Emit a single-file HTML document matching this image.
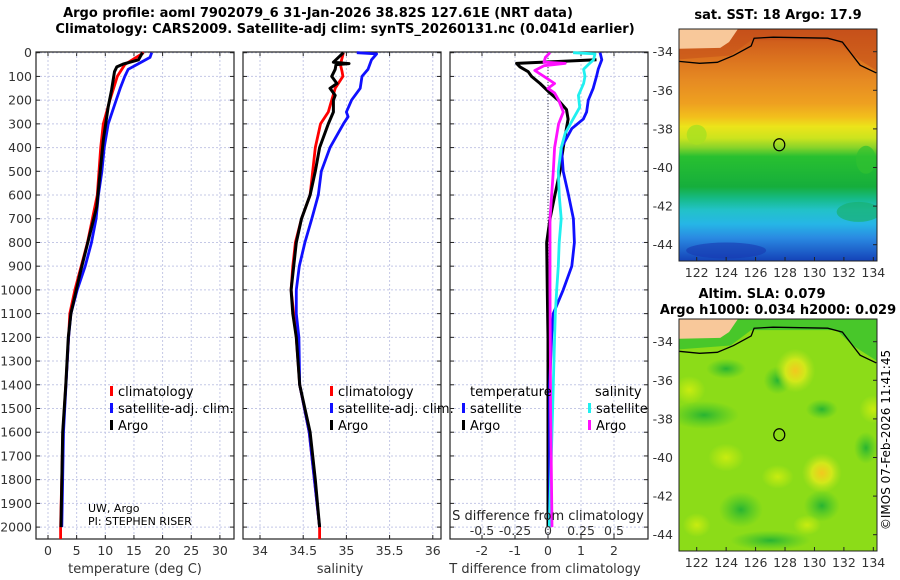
<!DOCTYPE html>
<html><head><meta charset="utf-8"><style>
body{margin:0;background:#fff;}
svg{display:block;font-family:"DejaVu Sans","Liberation Sans",sans-serif;}
</style></head><body>
<svg id="fig" width="900" height="580" viewBox="0 0 900 580">
<defs>
<linearGradient id="sstg" x1="0" y1="0" x2="0" y2="1">
<stop offset="0" stop-color="#c8501a"/><stop offset="0.12" stop-color="#da701e"/>
<stop offset="0.22" stop-color="#e68a22"/><stop offset="0.32" stop-color="#eea020"/>
<stop offset="0.38" stop-color="#f2c01c"/><stop offset="0.42" stop-color="#ece41a"/>
<stop offset="0.47" stop-color="#cce41e"/><stop offset="0.51" stop-color="#8ad42a"/>
<stop offset="0.55" stop-color="#28c030"/><stop offset="0.68" stop-color="#16ae3c"/>
<stop offset="0.73" stop-color="#16ba86"/><stop offset="0.78" stop-color="#22c2c8"/>
<stop offset="0.84" stop-color="#26b6e6"/><stop offset="0.9" stop-color="#2a8ae2"/>
<stop offset="1" stop-color="#1442b8"/></linearGradient>
<radialGradient id="yb"><stop offset="0" stop-color="#f2c81e"/><stop offset="0.5" stop-color="#d2e81a"/><stop offset="1" stop-color="#b4e41c" stop-opacity="0"/></radialGradient>
<radialGradient id="gb"><stop offset="0" stop-color="#28b432"/><stop offset="1" stop-color="#3cc42c" stop-opacity="0"/></radialGradient>
<radialGradient id="lb"><stop offset="0" stop-color="#c8ec10"/><stop offset="1" stop-color="#c8ec10" stop-opacity="0"/></radialGradient>
</defs>
<text x="318" y="17" text-anchor="middle" font-weight="bold" font-size="13">Argo profile: aoml 7902079_6 31-Jan-2026 38.82S 127.61E (NRT data)</text>
<text x="345" y="33" text-anchor="middle" font-weight="bold" font-size="13">Climatology: CARS2009. Satellite-adj clim: synTS_20260131.nc (0.041d earlier)</text>
<g id="g1"></g>
<g id="g2"></g>
<g id="g3"></g>
<g id="m1"></g>
<g id="m2"></g>
<text x="890" y="440" text-anchor="middle" font-size="12" transform="rotate(-90 890 440)">©IMOS 07-Feb-2026 11:41:45</text>
</svg>
<script>
// ---- data ----
const depthTicks=[0,100,200,300,400,500,600,700,800,900,1000,1100,1200,1300,1400,1500,1600,1700,1800,1900,2000];
const tempTicks=[0,5,10,15,20,25,30];
const salTicks=[34,34.5,35,35.5,36];
const salTickLabels=["34","34.5","35","35.5","36"];
const dTTicks=[-2,-1,0,1,2];
const dSTicks=[-0.5,-0.25,0,0.25,0.5];
const dSTickLabels=["-0.5","-0.25","0","0.25","0.5"];

const tClimD=[0,50,100,200,300,400,600,800,1000,1100,1200,1400,1600,2000,2050];
const tClimV=[16.7,13.4,12.1,10.8,9.65,9.2,8.6,6.9,4.7,3.8,3.6,3.1,2.6,2.2,2.2];
const tSatD=[0,20,50,70,100,150,200,300,400,500,600,700,800,900,1000,1100,1200,1400,1600,2000];
const tSatV=[18.1,17.8,15.5,14.0,13.4,12.6,11.9,10.5,9.8,9.4,8.8,8.4,7.6,6.5,5.1,4.0,3.6,3.15,2.7,2.4];
const tArgoD=[0,30,48,60,80,157,228,368,650,930,1100,1200,1400,1600,2000];
const tArgoV=[16.5,15.8,13.1,12.0,11.6,11.1,10.5,9.65,8.5,5.6,4.0,3.55,3.1,2.56,2.27];

const sClimD=[0,50,80,100,150,200,250,300,400,500,600,700,800,900,1000,1200,1400,1600,1800,2000,2050];
const sClimV=[34.965,34.93,34.95,34.96,34.87,34.83,34.79,34.70,34.64,34.61,34.58,34.48,34.41,34.38,34.36,34.42,34.46,34.57,34.63,34.69,34.69];
const sSatD=[0,5,30,70,100,150,200,250,270,300,400,500,600,700,800,900,1000,1100,1200,1400,1600,1800,2000];
const sSatV=[35.12,35.35,35.29,35.25,35.18,35.16,35.06,35.00,35.02,34.965,34.81,34.71,34.675,34.60,34.52,34.455,34.42,34.42,34.45,34.46,34.57,34.63,34.69];
const sArgoD=[0,40,46,50,70,100,130,150,180,200,250,300,400,500,600,700,800,900,1000,1100,1200,1400,1600,1800,2000];
const sArgoV=[34.965,34.85,35.03,34.88,34.87,34.83,34.89,34.81,34.87,34.85,34.85,34.79,34.69,34.64,34.58,34.48,34.42,34.39,34.36,34.38,34.42,34.46,34.58,34.64,34.69];

const dTArgoD=[30,45,60,80,100,130,170,200,240,280,350,400,500,600,700,800,900,1000,1200,1600,2000];
const dTArgoV=[1.47,-0.95,-0.85,-0.6,-0.5,-0.24,0.06,0.31,0.56,0.61,0.52,0.46,0.36,0.21,0.06,-0.04,-0.03,-0.02,0,0,0];
const dTSatD=[0,30,70,100,150,200,250,280,320,400,500,600,700,800,900,1000,1100,1200,1400,2000];
const dTSatV=[1.58,1.63,1.52,1.47,1.37,1.22,1.17,1.07,0.72,0.41,0.46,0.62,0.77,0.8,0.72,0.46,0.16,0.11,0.05,0.05];
const dSSatD=[0,5,30,50,70,100,130,180,230,280,340,400,500,600,700,800,900,1000,1100,1200,1600,2000];
const dSSatV=[0.19,0.356,0.345,0.305,0.27,0.28,0.27,0.23,0.24,0.19,0.13,0.10,0.078,0.085,0.10,0.085,0.078,0.066,0.055,0.05,0.03,0.01];
const dSArgoD=[0,20,40,45,55,75,100,130,150,170,200,250,300,400,500,700,1000,1500,2000];
const dSArgoV=[0.015,-0.02,-0.03,0.13,-0.03,-0.1,-0.03,0.05,0.0,0.05,0.08,0.116,0.08,0.05,0.04,0.015,0.015,0.02,0.03];

const mapLonTicks=[122,124,126,128,130,132,134];
const mapLatTicks=[-34,-36,-38,-40,-42,-44];
const argoLon=[127.61], argoLat=[-38.82];
const coastLon=[120.8,122.2,123.4,124.5,125.7,125.9,127.2,130.9,131.9,132.6,133.1,134.2];
const coastLat=[-34.5,-34.6,-34.55,-34.2,-33.7,-33.3,-33.25,-33.3,-33.5,-34.2,-34.7,-35.1];

// ---- axes ----
const Y0=52.7, YK=0.2372, PB=539, PT=52;
const yD=d=>Y0+d*YK;
const xT=t=>48+t*5.73;
const xS=s=>260+(s-34)*86.4;
const xDT=v=>548+v*33;
const xDS=v=>548+v*132;
const NS='http://www.w3.org/2000/svg';
function mk(tag,attrs,parent,txt){const e=document.createElementNS(NS,tag);for(const k in attrs)e.setAttribute(k,attrs[k]);if(txt!==undefined)e.textContent=txt;parent.appendChild(e);return e;}

function frameGrid(g,x0,x1,xticks,xf,name){
  xticks.forEach(t=>{const l=mk('line',{x1:xf(t),x2:xf(t),y1:PT,y2:PB,stroke:'#c4c8e6','stroke-width':1,'stroke-dasharray':'2,2'},g);
    
    
    mk('line',{x1:xf(t),x2:xf(t),y1:PB,y2:PB-4,stroke:'#222'},g);
    mk('line',{x1:xf(t),x2:xf(t),y1:PT,y2:PT+4,stroke:'#222'},g);});
  depthTicks.forEach(d=>{const l=mk('line',{x1:x0,x2:x1,y1:yD(d),y2:yD(d),stroke:'#c4c8e6','stroke-width':1,'stroke-dasharray':'2,2'},g);
    
    
    mk('line',{x1:x0,x2:x0+4,y1:yD(d),y2:yD(d),stroke:'#222'},g);
    mk('line',{x1:x1,x2:x1-4,y1:yD(d),y2:yD(d),stroke:'#222'},g);});
  const r=mk('rect',{x:x0,y:PT,width:x1-x0,height:PB-PT,fill:'none',stroke:'#222','stroke-width':1.2},g);
  
  
}
function line(g,D,V,xf,col,name,w){
  const p=D.map((d,i)=>(i?'L':'M')+xf(V[i]).toFixed(1)+','+yD(d).toFixed(1)).join('');
  const e=mk('path',{d:p,fill:'none',stroke:col,'stroke-width':w||2.8,'stroke-linejoin':'round'},g);
  
  
}
function leg(g,x,y,col,label,name){
  const r=mk('rect',{x:x,y:y-10,width:3,height:10,fill:col},g);
  
  
  const t=mk('text',{x:x+8,y:y,'font-size':13},g,label);
  
  
}
function xlabels(g,ticks,labels,xf,y){
  ticks.forEach((t,i)=>{const e=mk('text',{x:xf(t),y:y,'text-anchor':'middle','font-size':12.5,fill:'#333'},g,labels?labels[i]:String(t));
    
    });
}
// panel 1
const g1=document.getElementById('g1');
frameGrid(g1,36,234,tempTicks,xT,'temp');
depthTicks.forEach(d=>{const e=mk('text',{x:32,y:yD(d)+4.5,'text-anchor':'end','font-size':12.5,fill:'#333'},g1,String(d));
  
  });
xlabels(g1,tempTicks,null,xT,555);
let e=mk('text',{x:135,y:573,'text-anchor':'middle','font-size':13,fill:'#333'},g1,'temperature (deg C)');


line(g1,tClimD,tClimV,xT,'#ff0000','temp-climatology-line');
line(g1,tSatD,tSatV,xT,'#1010ff','temp-satellite-line');
line(g1,tArgoD,tArgoV,xT,'#000','temp-argo-line',3);
leg(g1,110,396,'#ff0000','climatology','legend-climatology');
leg(g1,110,413,'#1010ff','satellite-adj. clim.','legend-satellite');
leg(g1,110,430,'#000','Argo','legend-argo');
e=mk('text',{x:88,y:512,'font-size':11},g1,'UW, Argo');


e=mk('text',{x:88,y:525,'font-size':11},g1,'PI: STEPHEN RISER');


// panel 2
const g2=document.getElementById('g2');
frameGrid(g2,243,441,salTicks,xS,'sal');
xlabels(g2,salTicks,salTickLabels,xS,555);
e=mk('text',{x:340,y:573,'text-anchor':'middle','font-size':13,fill:'#333'},g2,'salinity');


line(g2,sClimD,sClimV,xS,'#ff0000','sal-climatology-line');
line(g2,sSatD,sSatV,xS,'#1010ff','sal-satellite-line');
line(g2,sArgoD,sArgoV,xS,'#000','sal-argo-line',3);
leg(g2,330,396,'#ff0000','climatology','legend-sal-climatology');
leg(g2,330,413,'#1010ff','satellite-adj. clim.','legend-sal-satellite');
leg(g2,330,430,'#000','Argo','legend-sal-argo');
// panel 3
const g3=document.getElementById('g3');
frameGrid(g3,450,648,dTTicks,xDT,'diff');
e=mk('line',{x1:548,x2:548,y1:PT,y2:PB,stroke:'#334',"stroke-width":1,'stroke-dasharray':'1,2'},g3);


xlabels(g3,dTTicks,null,xDT,555);
e=mk('text',{x:545,y:573,'text-anchor':'middle','font-size':13,fill:'#333'},g3,'T difference from climatology');


line(g3,dTArgoD,dTArgoV,xDT,'#000','tdiff-argo-line',3);
line(g3,dTSatD,dTSatV,xDT,'#1010ff','tdiff-satellite-line');
line(g3,dSSatD,dSSatV,xDS,'#20f0f0','sdiff-satellite-line');
line(g3,dSArgoD,dSArgoV,xDS,'#ff10ff','sdiff-argo-line');
e=mk('text',{x:548,y:520,'text-anchor':'middle','font-size':13,fill:'#222'},g3,'S difference from climatology');


xlabels(g3,dSTicks,dSTickLabels,xDS,535);
e=mk('text',{x:470,y:396,'font-size':13},g3,'temperature');


e=mk('text',{x:595,y:396,'font-size':13},g3,'salinity');


leg(g3,462,413,'#1010ff','satellite','legend-tdiff-satellite');
leg(g3,462,430,'#000','Argo','legend-tdiff-argo');
leg(g3,588,413,'#20f0f0','satellite','legend-sdiff-satellite');
leg(g3,588,430,'#ff10ff','Argo','legend-sdiff-argo');

// maps
function drawMap(g,top,kind){
  const L=679,R=877,H=232;
  const mx=lon=>696.7+(lon-122)*14.72;
  const my=lat=>top+22.7+(-34-lat)*19.3;
  const cp=mk('clipPath',{id:'cp'+kind},g);
  mk('rect',{x:L,y:top,width:R-L,height:H},cp);
  const c=mk('g',{'clip-path':'url(#cp'+kind+')'},g);
  if(kind==='sst'){
    mk('rect',{x:L,y:top,width:R-L,height:H,fill:'url(#sstg)'},c);
    mk('path',{d:`M${L},${top}L${R},${top}L${R},${my(-35)}L${mx(132.6)},${my(-34.2)}L${mx(131.5)},${my(-33.4)}L${mx(125.7)},${my(-33.4)}L${mx(124.3)},${my(-34.2)}L${mx(120.8)},${my(-34.4)}Z`,fill:'#c4501a',opacity:0.55},c);
    mk('ellipse',{cx:mx(133.5),cy:my(-39.6),rx:10,ry:14,fill:'#30c030',opacity:0.7},c);
    mk('ellipse',{cx:mx(122),cy:my(-38.3),rx:10,ry:10,fill:'#a8e020',opacity:0.8},c);
    mk('ellipse',{cx:mx(133),cy:my(-42.3),rx:22,ry:10,fill:'#18b070',opacity:0.7},c);
    mk('ellipse',{cx:mx(124),cy:my(-44.3),rx:40,ry:8,fill:'#1838b0',opacity:0.6},c);
  } else {
    mk('rect',{x:L,y:top,width:R-L,height:H,fill:'#8cdc18'},c);
    [[122.5,-37.8,35,14],[125,-42.7,22,18],[130.5,-42.5,18,16],[127.5,-36,14,14],[133.5,-39.5,12,16],[130.5,-37.5,16,10],[124,-35.4,20,10],[127,-44.3,40,10]].forEach(b=>mk('ellipse',{cx:mx(b[0]),cy:my(b[1]),rx:b[2],ry:b[3],fill:'url(#gb)'},c));
    [[121.5,-36.5,16,14],[124,-40,18,14],[127.5,-41,16,12],[134,-37.5,14,14],[122,-43.5,14,12],[129.5,-43.5,14,10]].forEach(b=>mk('ellipse',{cx:mx(b[0]),cy:my(b[1]),rx:b[2],ry:b[3],fill:'url(#lb)'},c));
    [[128.7,-35.5,20,22],[130.5,-40.8,20,20]].forEach(b=>{const y=mk('ellipse',{cx:mx(b[0]),cy:my(b[1]),rx:b[2],ry:b[3],fill:'url(#yb)'},c);
      
      });
    mk('path',{d:`M${L},${top}L${R},${top}L${R},${my(-35)}L${mx(132.6)},${my(-34.2)}L${mx(131.5)},${my(-33.4)}L${mx(125.7)},${my(-33.4)}L${mx(124.3)},${my(-34.2)}L${mx(120.8)},${my(-34.4)}Z`,fill:'#32c030',opacity:0.75},c);
  }
  const land=mk('path',{d:`M${L},${top}L${mx(124.8)},${top}L${mx(124.2)},${my(-33.5)}L${mx(123.6)},${my(-33.8)}L${L},${my(-33.85)}Z`,fill:'#f8c89a'},c);
  
  
  const cl=mk('path',{d:coastLon.map((lo,i)=>(i?'L':'M')+mx(lo).toFixed(1)+','+my(coastLat[i]).toFixed(1)).join(''),fill:'none',stroke:'#000','stroke-width':1.3},c);
  
  
  argoLon.forEach((lo,i)=>{const m=mk('ellipse',{cx:mx(lo),cy:my(argoLat[i]),rx:5.5,ry:6,fill:'none',stroke:'#000','stroke-width':1.2},g);
    
    });
  const f=mk('rect',{x:L,y:top,width:R-L,height:H,fill:'none',stroke:'#222','stroke-width':1},g);
  
  
  mapLonTicks.forEach(lo=>{mk('line',{x1:mx(lo),x2:mx(lo),y1:top+H,y2:top+H-4,stroke:'#222'},g);
    const t=mk('text',{x:mx(lo),y:top+H+16,'text-anchor':'middle','font-size':12.5,fill:'#333'},g,String(lo));
    
    });
  mapLatTicks.forEach(la=>{mk('line',{x1:R,x2:R-4,y1:my(la),y2:my(la),stroke:'#222'},g);
    const t=mk('text',{x:673,y:my(la)+4.5,'text-anchor':'end','font-size':12.5,fill:'#333'},g,String(la));
    
    });
}
const m1=document.getElementById('m1'), m2=document.getElementById('m2');
drawMap(m1,29,'sst');
drawMap(m2,319,'sla');
e=mk('text',{x:778,y:19,'text-anchor':'middle','font-weight':'bold','font-size':13},m1,'sat. SST: 18 Argo: 17.9');


e=mk('text',{x:762,y:298,'text-anchor':'middle','font-weight':'bold','font-size':13},m2,'Altim. SLA: 0.079');


e=mk('text',{x:778,y:314,'text-anchor':'middle','font-weight':'bold','font-size':13},m2,'Argo h1000: 0.034 h2000: 0.029');


</script>
</body></html>
